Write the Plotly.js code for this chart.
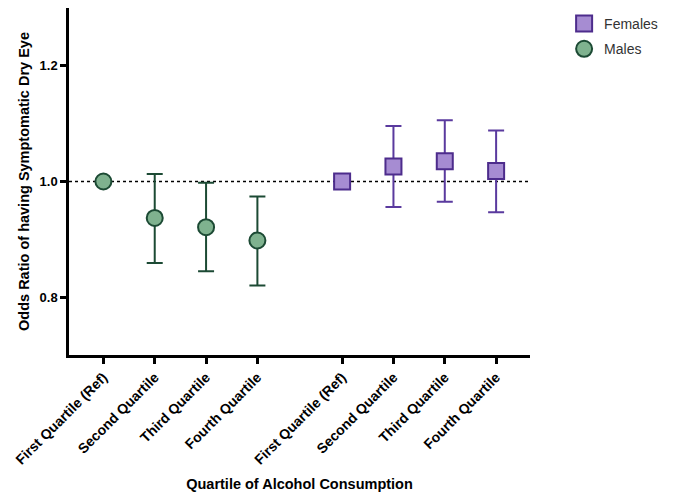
<!DOCTYPE html>
<html>
<head>
<meta charset="utf-8">
<script src="https://cdn.plot.ly/plotly-3.0.1.min.js"></script>
<style>html,body{margin:0;padding:0;background:#fff;}#chart{width:673px;height:492px;}</style>
</head>
<body>
<div id="chart"></div>
<script>
const quartileLabels = ["First Quartile (Ref)", "Second Quartile", "Third Quartile", "Fourth Quartile"];
const malePos = [1, 2, 3, 4];
const femalePos = [5.65, 6.65, 7.65, 8.65];
const maleOR = [1.0, 0.937, 0.921, 0.898];
const maleUpper = [null, 1.013, 0.998, 0.974];
const maleLower = [null, 0.859, 0.845, 0.820];
const femaleOR = [1.0, 1.026, 1.035, 1.018];
const femaleUpper = [null, 1.096, 1.106, 1.088];
const femaleLower = [null, 0.956, 0.965, 0.947];

function plus(v, u) { return v.map((x, i) => u[i] == null ? 0 : u[i] - x); }
function minus(v, l) { return v.map((x, i) => l[i] == null ? 0 : x - l[i]); }

const fontFam = "Arial, 'Liberation Sans', Helvetica, sans-serif";

const females = {
  x: femalePos, y: femaleOR, name: "Females", legendgroup: "f", type: "scatter", mode: "markers",
  marker: {symbol: "square", size: 16, color: "#a68cd2", line: {color: "#4d2c8c", width: 2}},
  error_y: {type: "data", symmetric: false, array: plus(femaleOR, femaleUpper), arrayminus: minus(femaleOR, femaleLower),
    color: "#5a3a9e", thickness: 2, width: 8}
};
const males = {
  x: malePos, y: maleOR, name: "Males", legendgroup: "m", type: "scatter", mode: "markers",
  marker: {symbol: "circle", size: 16, color: "#7fb28f", line: {color: "#1c4a34", width: 2}},
  error_y: {type: "data", symmetric: false, array: plus(maleOR, maleUpper), arrayminus: minus(maleOR, maleLower),
    color: "#1c4a34", thickness: 2, width: 8}
};

const layout = {
  width: 673, height: 492,
  margin: {l: 69, r: 143, t: 7.5, b: 136.5},
  paper_bgcolor: "#fff", plot_bgcolor: "#fff",
  showlegend: true,
  legend: {x: 1.074, y: 1.0, xanchor: "left", yanchor: "top", font: {family: fontFam, size: 14, color: "#333"},
    itemsizing: "trace", tracegroupgap: 4},
  xaxis: {
    range: [0.33, 9.31], showgrid: false, zeroline: false,
    showline: true, linecolor: "#000", linewidth: 2.5,
    ticks: "outside", ticklen: 6, tickwidth: 2.5, tickcolor: "#000",
    tickvals: malePos.concat(femalePos), ticktext: quartileLabels.concat(quartileLabels),
    tickangle: -45, tickfont: {family: fontFam, size: 14, color: "#000", weight: "bold"},
    title: {text: "Quartile of Alcohol Consumption", font: {family: fontFam, size: 14.5, color: "#000", weight: "bold"}, standoff: 14}
  },
  yaxis: {
    range: [0.7, 1.3], showgrid: false, zeroline: false,
    showline: true, linecolor: "#000", linewidth: 2.5,
    ticks: "outside", ticklen: 6, tickwidth: 2.5, tickcolor: "#000",
    tickvals: [0.8, 1.0, 1.2], ticktext: ["0.8", "1.0", "1.2"],
    tickfont: {family: fontFam, size: 13, color: "#000", weight: "bold"},
    title: {text: "Odds Ratio of having Symptomatic Dry Eye", font: {family: fontFam, size: 14.5, color: "#000", weight: "bold"}}
  },
  shapes: [{type: "line", xref: "paper", x0: 0, x1: 1, yref: "y", y0: 1.0, y1: 1.0,
    line: {color: "#000", width: 1.5, dash: "dot"}, layer: "below"}]
};

Plotly.newPlot("chart", [females, males], layout, {displayModeBar: false});
</script>
</body>
</html>
